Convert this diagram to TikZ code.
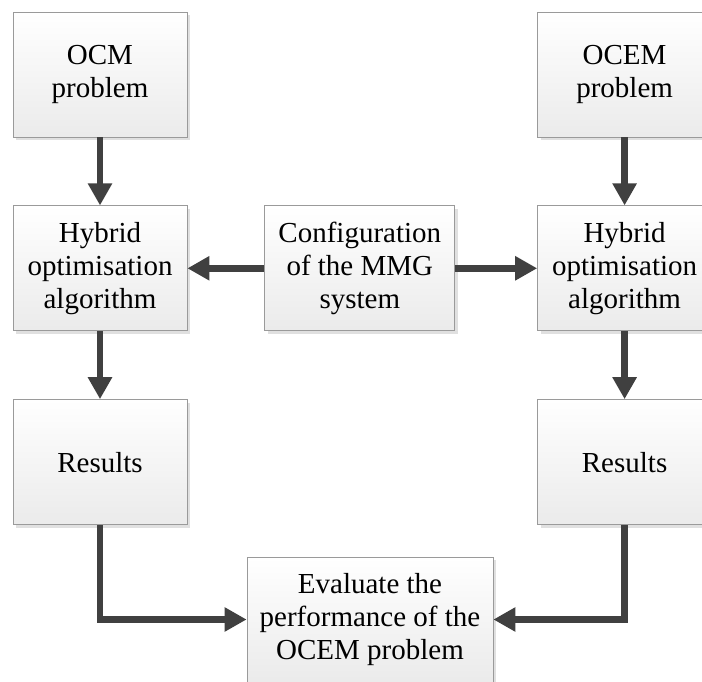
\documentclass[tikz,border=0pt]{standalone}
\usepackage{fontspec}
\setmainfont{Liberation Serif}
\usepackage{xcolor}
\usetikzlibrary{arrows.meta,positioning,shadows}

\definecolor{arrgray}{HTML}{404040}
\definecolor{edgegray}{HTML}{9A9A9A}

\begin{document}
\begin{tikzpicture}[
  block/.style={draw=edgegray, line width=0.8pt, top color=white, bottom color=black!8,
                minimum width=174pt, minimum height=125pt, inner sep=2pt, align=center,
                font=\fontsize{29}{33}\selectfont,
                drop shadow={shadow xshift=3pt, shadow yshift=-3pt, fill=black!12, opacity=1}},
  arr/.style={-{Triangle[width=23pt,length=22pt]}, line width=6.5pt, draw=arrgray},
  node distance=68pt
]
\clip (0,0) rectangle (702pt,-682pt);
\fill[white] (0,0) rectangle (702pt,-682pt);

% left column
\node[block] (ocm) at (100pt,-74.5pt) {OCM\\problem};
\node[block, below=of ocm] (hybL) {Hybrid\\optimisation\\algorithm};
\node[block, below=of hybL] (resL) {Results};

% middle
\node[block, minimum width=190pt, right=77pt of hybL] (config) {Configuration\\of the MMG\\system};

% right column
\node[block, right=82pt of config] (hybR) {Hybrid\\optimisation\\algorithm};
\node[block, above=of hybR] (ocem) {OCEM\\problem};
\node[block, below=of hybR] (resR) {Results};

% evaluation
\node[block, minimum width=246pt] (eval) at (370pt,-619.5pt) {Evaluate the\\performance of the\\OCEM problem};

\draw[arr] (ocm) -- (hybL);
\draw[arr] (hybL) -- (resL);
\draw[arr] (ocem) -- (hybR);
\draw[arr] (hybR) -- (resR);
\draw[arr] (config) -- (hybL);
\draw[arr] (config) -- (hybR);
\draw[arr] (resL.south) |- (eval.west);
\draw[arr] (resR.south) |- (eval.east);
\end{tikzpicture}
\end{document}
